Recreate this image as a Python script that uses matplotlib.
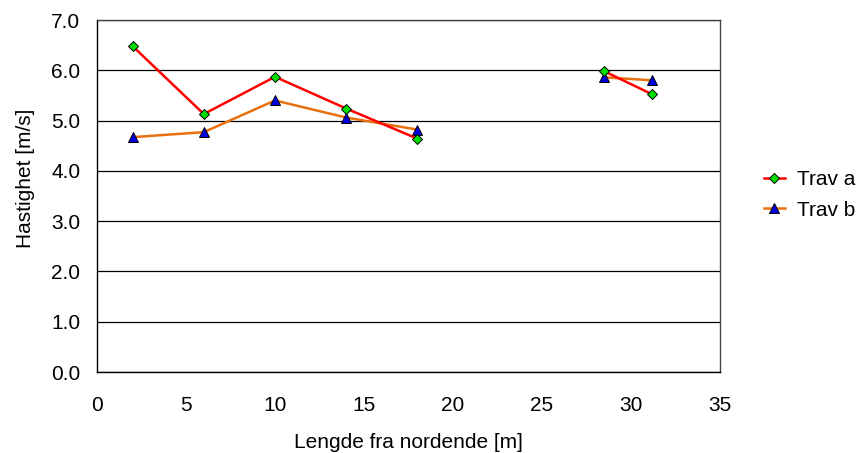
import matplotlib
matplotlib.use("Agg")
import matplotlib.pyplot as plt

plt.rcParams['font.family'] = ['Liberation Sans', 'DejaVu Sans']

# hastighet langs banen, to serier med et brudd mellom 18 m og 28 m
x_a = [2, 6, 10, 14, 18]
trav_a = [6.48, 5.13, 5.87, 5.24, 4.64]
trav_b = [4.67, 4.77, 5.40, 5.06, 4.82]

x_a2 = [28.5, 31.2]
trav_a2 = [5.98, 5.52]
trav_b2 = [5.86, 5.80]

yticks = [0, 1, 2, 3, 4, 5, 6, 7]
xticks = [0, 5, 10, 15, 20, 25, 30, 35]

fs = 15

fig = plt.figure(figsize=(8.67, 4.53), dpi=100)
ax = fig.add_axes([97 / 867, 1 - 372 / 453, (720 - 97) / 867, (372 - 20) / 453])

red = '#FF0000'
orange = '#E8700F'

a_style = dict(color=red, lw=1.8, marker='D', ms=4.8, mfc='#00E000', mec='black', mew=0.7)
b_style = dict(color=orange, lw=1.8, marker='^', ms=6.5, mfc='#0000E0', mec='black', mew=0.7)

ax.plot(x_a, trav_b, label='Trav b', zorder=3, **b_style)
ax.plot(x_a, trav_a, label='Trav a', zorder=4, **a_style)
ax.plot(x_a2, trav_b2, zorder=3, **b_style)
ax.plot(x_a2, trav_a2, zorder=4, **a_style)

ax.set_xlim(0, 35)
ax.set_ylim(0, 7)
ax.set_xticks(xticks)
ax.set_yticks(yticks)
ax.set_yticklabels(['%.1f' % v for v in yticks])
ax.yaxis.grid(True, color='black', lw=0.9)
ax.set_axisbelow(True)
ax.tick_params(axis='both', labelsize=fs, length=0)
ax.tick_params(axis='x', pad=17)
ax.tick_params(axis='y', pad=12)
for s in ax.spines.values():
    s.set_color('#444444')
    s.set_linewidth(1.0)
ax.spines['left'].set_color('black')
ax.spines['bottom'].set_color('black')

ax.set_xlabel('Lengde fra nordende [m]', fontsize=fs)
ax.set_ylabel('Hastighet [m/s]', fontsize=fs)
ax.xaxis.set_label_coords(0.5, -0.172)
ax.yaxis.set_label_coords(-0.1, 0.551)

h, l = ax.get_legend_handles_labels()
fig.legend(h[::-1], l[::-1], loc='center left', bbox_to_anchor=(745 / 867, 1 - 195 / 453),
           frameon=False, fontsize=fs, handlelength=1.0, handletextpad=0.6, labelspacing=0.55)

fig.savefig('out.png', dpi=100)
